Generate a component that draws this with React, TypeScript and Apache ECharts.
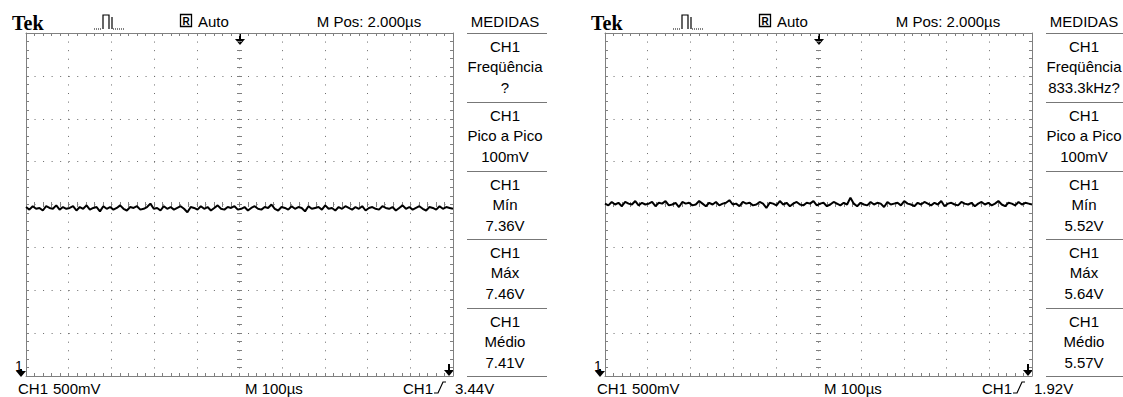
import React, { useEffect, useRef } from "react";
import * as echarts from "echarts";

// ---- data ----
const brand = "Tek";
const acqMode = "Auto";
const horizPos = "M Pos: 2.000µs";
const menuTitle = "MEDIDAS";
const chScale = ["CH1", "500mV"];
const timeBase = "M 100µs";
const trigSource = "CH1";
const trigLevels = ["3.44V", "1.92V"];

const timeSpanUs = 1000; // 10 div x 100 µs
const xTicksUs = 100;

const measuresLeft = [
  ["CH1", "Freqüência", "?"],
  ["CH1", "Pico a Pico", "100mV"],
  ["CH1", "Mín", "7.36V"],
  ["CH1", "Máx", "7.46V"],
  ["CH1", "Médio", "7.41V"],
];
const measuresRight = [
  ["CH1", "Freqüência", "833.3kHz?"],
  ["CH1", "Pico a Pico", "100mV"],
  ["CH1", "Mín", "5.52V"],
  ["CH1", "Máx", "5.64V"],
  ["CH1", "Médio", "5.57V"],
];

// trace samples (V)
const traceLeft = [
  7.42, 7.39, 7.43, 7.40, 7.41, 7.38, 7.43, 7.41, 7.40, 7.44, 7.39, 7.42, 7.40, 7.41, 7.43, 7.38,
  7.42, 7.40, 7.44, 7.39, 7.41, 7.42, 7.37, 7.43, 7.40, 7.42, 7.39, 7.41, 7.44, 7.40, 7.38, 7.42,
  7.41, 7.43, 7.39, 7.40, 7.42, 7.46, 7.40, 7.41, 7.38, 7.43, 7.40, 7.42, 7.39, 7.41, 7.43, 7.40,
  7.36, 7.42, 7.41, 7.39, 7.43, 7.40, 7.42, 7.38, 7.41, 7.44, 7.40, 7.39, 7.42, 7.41, 7.43, 7.39,
  7.40, 7.42, 7.38, 7.41, 7.43, 7.40, 7.39, 7.42, 7.41, 7.45, 7.40, 7.38, 7.42, 7.41, 7.39, 7.43,
  7.40, 7.42, 7.41, 7.37, 7.43, 7.40, 7.41, 7.42, 7.39, 7.44, 7.40, 7.41, 7.38, 7.42, 7.40, 7.43,
  7.41, 7.39, 7.42, 7.40, 7.43, 7.38, 7.41, 7.42, 7.40, 7.39, 7.43, 7.41, 7.40, 7.42, 7.38, 7.41,
  7.44, 7.40, 7.42, 7.39, 7.41, 7.43, 7.40, 7.38, 7.42, 7.41, 7.39, 7.43, 7.40, 7.42, 7.41, 7.40,
];
const traceRight = [
  5.57, 5.55, 5.59, 5.56, 5.58, 5.54, 5.59, 5.57, 5.56, 5.60, 5.55, 5.58, 5.56, 5.57, 5.59, 5.54,
  5.58, 5.57, 5.60, 5.55, 5.56, 5.58, 5.53, 5.59, 5.57, 5.58, 5.55, 5.56, 5.60, 5.57, 5.54, 5.58,
  5.56, 5.59, 5.55, 5.57, 5.58, 5.61, 5.56, 5.57, 5.54, 5.59, 5.57, 5.58, 5.55, 5.56, 5.59, 5.57,
  5.52, 5.58, 5.57, 5.55, 5.60, 5.56, 5.58, 5.54, 5.57, 5.59, 5.56, 5.55, 5.58, 5.57, 5.60, 5.55,
  5.57, 5.58, 5.54, 5.56, 5.59, 5.57, 5.55, 5.58, 5.56, 5.64, 5.57, 5.54, 5.58, 5.56, 5.55, 5.59,
  5.56, 5.58, 5.57, 5.53, 5.59, 5.56, 5.57, 5.58, 5.55, 5.60, 5.57, 5.56, 5.54, 5.58, 5.56, 5.59,
  5.57, 5.55, 5.58, 5.56, 5.60, 5.54, 5.57, 5.58, 5.56, 5.55, 5.59, 5.57, 5.56, 5.58, 5.54, 5.57,
  5.59, 5.56, 5.58, 5.55, 5.57, 5.60, 5.56, 5.54, 5.58, 5.57, 5.55, 5.59, 5.56, 5.58, 5.57, 5.56,
];
// screen center voltage of each scope (V), 500 mV/div, 8 div
const centerVolts = [7.45, 5.56];
const voltsPerDiv = 0.5;

// ---- layout / style ----
const FONT = "'Liberation Sans', Arial, sans-serif";
const GRAY = "#808080";
const DOT = "#6a6a6a";
const OFFSET = 579;
const GL = 26, GT = 33, GW = 427, GH = 343;

function scopeAxes(k: number) {
  const base = { gridIndex: k, silent: true, axisLabel: { show: false } };
  const tickStyle = { color: GRAY, width: 1 };
  const xs = [
    {
      ...base, type: "value", position: "bottom", min: 0, max: timeSpanUs, interval: xTicksUs,
      axisLine: { show: true, onZero: false, lineStyle: { color: GRAY, width: 1 } },
      axisTick: { show: true, inside: true, length: 3, lineStyle: tickStyle },
      minorTick: { show: true, splitNumber: 5, length: 3, lineStyle: tickStyle },
      splitLine: { show: true, lineStyle: { color: DOT, width: 1, type: [1, 7.575] } },
    },
    {
      ...base, type: "value", position: "top", min: 0, max: timeSpanUs, interval: xTicksUs,
      axisLine: { show: true, onZero: false, lineStyle: { color: GRAY, width: 1 } },
      axisTick: { show: true, inside: true, length: 3, lineStyle: tickStyle },
      minorTick: { show: true, splitNumber: 5, length: 3, lineStyle: tickStyle },
      splitLine: { show: false },
    },
    {
      ...base, type: "value", position: "bottom", offset: -169, min: 0, max: timeSpanUs, interval: xTicksUs,
      axisLine: { show: false, onZero: false },
      axisTick: { show: true, inside: true, length: 5, lineStyle: tickStyle },
      minorTick: { show: true, splitNumber: 5, length: 5, lineStyle: tickStyle },
      splitLine: { show: false },
    },
  ];
  const c = centerVolts[k];
  const ys = [
    {
      ...base, type: "value", position: "left", min: -4, max: 4, interval: 1,
      axisLine: { show: true, onZero: false, lineStyle: { color: GRAY, width: 1 } },
      axisTick: { show: true, inside: true, length: 3, lineStyle: tickStyle },
      minorTick: { show: true, splitNumber: 5, length: 3, lineStyle: tickStyle },
      splitLine: { show: true, lineStyle: { color: DOT, width: 1, type: [1, 7.54] } },
    },
    {
      ...base, type: "value", position: "right", min: -4, max: 4, interval: 1,
      axisLine: { show: true, onZero: false, lineStyle: { color: GRAY, width: 1 } },
      axisTick: { show: true, inside: true, length: 3, lineStyle: tickStyle },
      minorTick: { show: true, splitNumber: 5, length: 3, lineStyle: tickStyle },
      splitLine: { show: false },
    },
    {
      ...base, type: "value", position: "left", offset: -211, min: -4, max: 4, interval: 1,
      axisLine: { show: false, onZero: false },
      axisTick: { show: true, inside: true, length: 5, lineStyle: tickStyle },
      minorTick: { show: true, splitNumber: 5, length: 5, lineStyle: tickStyle },
      splitLine: { show: false },
    },
    {
      ...base, type: "value", position: "left", show: false,
      min: c - 4 * voltsPerDiv, max: c + 4 * voltsPerDiv,
      axisLine: { show: false, onZero: false }, splitLine: { show: false },
    },
  ];
  return { xs, ys };
}

function txt(x: number, y: number, text: string, opts: any = {}) {
  return {
    type: "text", x, y, silent: true,
    style: {
      text, fill: "#000", font: opts.font || `15px ${FONT}`,
      textAlign: opts.align || "left", textVerticalAlign: "middle",
    },
  };
}

function downArrow(cx: number, top: number, bottom: number) {
  return [
    { type: "rect", shape: { x: cx - 1, y: top, width: 2, height: bottom - top - 5 }, style: { fill: "#000" }, silent: true },
    { type: "polygon", shape: { points: [[cx - 5, bottom - 6], [cx + 5, bottom - 6], [cx, bottom]] }, style: { fill: "#000" }, silent: true },
  ];
}

function scopeGraphics(k: number) {
  const ox = k * OFFSET;
  const meas = k === 0 ? measuresLeft : measuresRight;
  const g: any[] = [];
  g.push(txt(12 + ox, 23, brand, { font: `bold 20px 'Liberation Serif', serif` }));
  // trigger type icon
  g.push({ type: "polyline", silent: true, shape: { points: [[103, 29], [103, 15], [109, 15], [109, 29]].map(p => [p[0] + ox, p[1]]) }, style: { stroke: "#000", lineWidth: 1.2, fill: null } });
  g.push({ type: "line", silent: true, shape: { x1: 112 + ox, y1: 17, x2: 112 + ox, y2: 29 }, style: { stroke: "#000", lineWidth: 1.2 } });
  g.push({ type: "line", silent: true, shape: { x1: 94 + ox, y1: 29, x2: 102 + ox, y2: 29 }, style: { stroke: "#000", lineWidth: 1, lineDash: [1, 1] } });
  g.push({ type: "line", silent: true, shape: { x1: 113 + ox, y1: 29, x2: 125 + ox, y2: 29 }, style: { stroke: "#000", lineWidth: 1, lineDash: [1, 1] } });
  // run mode
  g.push({ type: "rect", silent: true, shape: { x: 180.5 + ox, y: 14.5, width: 11, height: 12 }, style: { stroke: "#000", lineWidth: 1.3, fill: null } });
  g.push(txt(186 + ox, 21, "R", { font: `bold 10px 'Liberation Sans', sans-serif`, align: "center" }));
  g.push(txt(198 + ox, 21, acqMode));
  g.push(txt(369 + ox, 21, horizPos, { align: "center" }));
  g.push(txt(505 + ox, 21, menuTitle, { align: "center" }));
  // measurement boxes
  const seps = [33, 102, 171, 239, 308, 376];
  seps.forEach(y => g.push({ type: "line", silent: true, shape: { x1: 467 + ox, y1: y + 0.5, x2: 547 + ox, y2: y + 0.5 }, style: { stroke: "#777", lineWidth: 1 } }));
  meas.forEach((m, j) => {
    const s = seps[j];
    m.forEach((t, r) => g.push(txt(505 + ox, s + 13 + r * 20.7, t, { align: "center" })));
  });
  // markers
  g.push(...downArrow(240 + ox, 33, 45));
  g.push(...downArrow(449 + ox, 364, 376));
  g.push(txt(15 + ox, 366, "1", { font: `14px ${FONT}` }));
  g.push(...downArrow(21 + ox, 369, 377));
  // bottom status
  g.push(txt(18 + ox, 388, chScale[0]));
  g.push(txt(53 + ox, 388, chScale[1]));
  g.push(txt(245 + ox, 388, timeBase));
  g.push(txt(403 + ox, 388, trigSource));
  g.push({ type: "polyline", silent: true, shape: { points: [[434, 393], [438, 393], [443, 382], [446, 382]].map(p => [p[0] + ox, p[1]]) }, style: { stroke: "#000", lineWidth: 1.2, fill: null } });
  g.push(txt(455 + ox, 388, trigLevels[k]));
  return g;
}

export default function App() {
  const ref = useRef<HTMLDivElement>(null);
  useEffect(() => {
    document.body.style.margin = "0";
    const chart = echarts.init(ref.current!, null, { renderer: "svg" });
    const a0 = scopeAxes(0), a1 = scopeAxes(1);
    const mk = (tr: number[], k: number) => ({
      type: "line", xAxisIndex: k * 3, yAxisIndex: k * 4 + 3, showSymbol: false, silent: true,
      lineStyle: { color: "#000", width: 2 },
      data: tr.map((v, i) => [(i * timeSpanUs) / (tr.length - 1), v]),
    });
    chart.setOption({
      animation: false,
      backgroundColor: "#fff",
      grid: [
        { left: GL, top: GT, width: GW, height: GH },
        { left: GL + OFFSET, top: GT, width: GW, height: GH },
      ],
      xAxis: [...a0.xs, ...a1.xs],
      yAxis: [...a0.ys, ...a1.ys],
      series: [mk(traceLeft, 0), mk(traceRight, 1)],
      graphic: [...scopeGraphics(0), ...scopeGraphics(1)],
    });
    return () => chart.dispose();
  }, []);
  return <div ref={ref} style={{ position: "fixed", left: 0, top: 0, width: 1123, height: 397, background: "#fff" }} />;
}
